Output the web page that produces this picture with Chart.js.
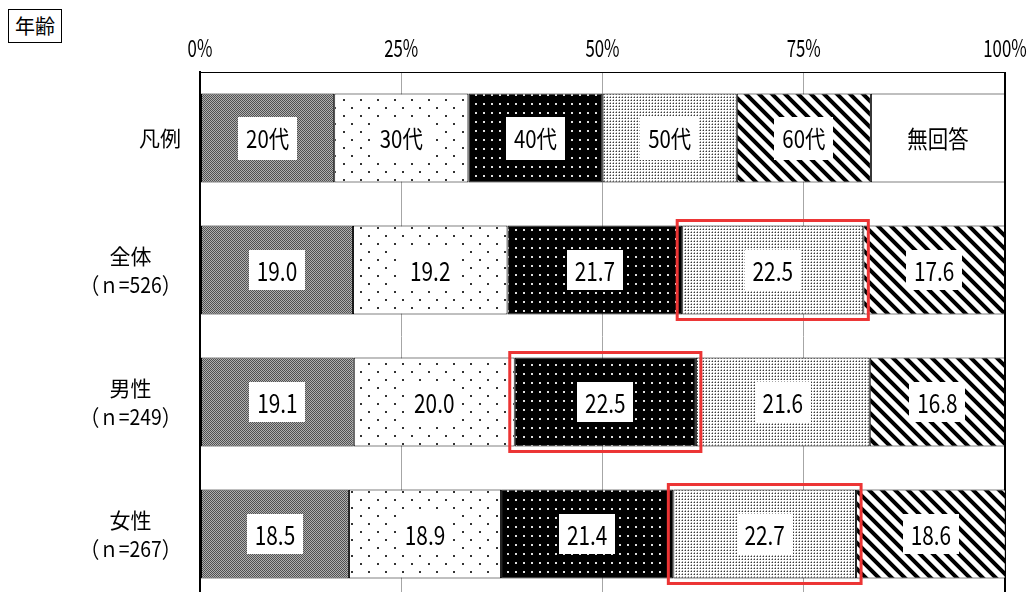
<!DOCTYPE html>
<html><head><meta charset="utf-8">
<script src="https://cdn.jsdelivr.net/npm/chart.js@4/dist/chart.umd.min.js"></script>
<style>
html,body{margin:0;padding:0;background:#fff;overflow:hidden;width:1031px;height:592px;}
#wrap{position:relative;width:1031px;height:600px;}
#title{position:absolute;left:8px;top:9px;width:52px;height:32px;border:1px solid #000;font:20px 'Noto Sans CJK JP';line-height:32px;text-align:center;background:#fff;}
canvas{position:absolute;left:0;top:0;}
</style></head><body>
<div id="wrap"><canvas id="c" width="1031" height="600"></canvas><div id="title">年齢</div></div>
<script>
const categories = [['凡例'], ['全体','（ｎ=526）'], ['男性','（ｎ=249）'], ['女性','（ｎ=267）']];
const seriesNames = ['20代','30代','40代','50代','60代','無回答'];
const v20 = [16.67, 19.0, 19.1, 18.5];
const v30 = [16.67, 19.2, 20.0, 18.9];
const v40 = [16.67, 21.7, 22.5, 21.4];
const v50 = [16.67, 22.5, 21.6, 22.7];
const v60 = [16.66, 17.6, 16.8, 18.6];
const vNA = [16.66, 0, 0, 0];
const xTicks = ['0%','25%','50%','75%','100%'];

const seriesValues = [v20, v30, v40, v50, v60, vNA];
const FONT = "'Noto Sans CJK JP', 'Noto Sans', sans-serif";

function mkPattern(w, h, fn) {
  const c = document.createElement('canvas');
  c.width = w; c.height = h;
  const x = c.getContext('2d');
  fn(x, w, h);
  return x.createPattern(c, 'repeat');
}
const p20 = mkPattern(2, 2, (x) => {
  x.fillStyle = '#b0b0b0'; x.fillRect(0, 0, 2, 2);
  x.fillStyle = '#505050'; x.fillRect(0, 0, 1, 1); x.fillRect(1, 1, 1, 1);
});
const p30 = mkPattern(17, 16, (x) => {
  x.fillStyle = '#fff'; x.fillRect(0, 0, 17, 16);
  x.fillStyle = '#333'; x.fillRect(3, 3, 2, 2); x.fillRect(11, 11, 2, 2);
});
const p40 = mkPattern(8, 9, (x) => {
  x.fillStyle = '#000'; x.fillRect(0, 0, 8, 9);
  x.fillStyle = '#e0e0e0'; x.fillRect(3, 4, 2, 2);
});
const p50 = mkPattern(3, 3, (x) => {
  x.fillStyle = '#fff'; x.fillRect(0, 0, 3, 3);
  x.fillStyle = '#3a3a3a'; x.fillRect(1, 1, 1, 1);
  x.fillStyle = '#aaa'; x.fillRect(1, 0, 1, 1); x.fillRect(0, 1, 1, 1);
});
const p60 = mkPattern(13, 13, (x) => {
  const img = x.createImageData(13, 13);
  for (let yy = 0; yy < 13; yy++) for (let xx = 0; xx < 13; xx++) {
    let d = ((xx - yy) % 13 + 13) % 13 + 0.5;
    let dist = Math.min(Math.abs(d - 2.5), 13 - Math.abs(d - 2.5));
    let a = Math.max(0, Math.min(1, (dist - 2.2) / 1.2));
    const v = Math.round(255 * a);
    const k = (yy * 13 + xx) * 4;
    img.data[k] = img.data[k + 1] = img.data[k + 2] = v; img.data[k + 3] = 255;
  }
  x.putImageData(img, 0, 0);
});
const patterns = [p20, p30, p40, p50, p60, '#ffffff'];

function drawScaledText(ctx, text, cx, cy, font, sx, align) {
  ctx.save();
  ctx.font = font;
  ctx.translate(cx, cy);
  ctx.scale(sx, 1);
  ctx.textAlign = align || 'center';
  ctx.textBaseline = 'middle';
  ctx.fillStyle = '#000';
  ctx.fillText(text, 0, 0);
  ctx.restore();
}

const overlay = {
  id: 'overlay',
  afterDatasetsDraw(chart) {
    const ctx = chart.ctx;
    chart.data.datasets.forEach((ds, i) => {
      const meta = chart.getDatasetMeta(i);
      meta.data.forEach((el, j) => {
        const v = ds.data[j];
        if (!v) return;
        const cx = (el.x + el.base) / 2, cy = el.y;
        let text, font, sx, bh;
        if (j === 0) { text = seriesNames[i]; font = '24px ' + FONT; sx = 0.85; bh = 43; }
        else { text = v.toFixed(1); font = '26px ' + FONT; sx = 0.8; bh = 40; }
        ctx.save(); ctx.font = font;
        const tw = ctx.measureText(text).width * sx;
        ctx.restore();
        const bw = tw + 16;
        ctx.fillStyle = '#fff';
        ctx.fillRect(Math.round(cx - bw / 2), Math.round(cy - bh / 2), Math.round(bw), bh);
        drawScaledText(ctx, text, cx, cy + 1, font, sx);
      });
    });
    for (let j = 1; j < chart.data.labels.length; j++) {
      let best = 0;
      chart.data.datasets.forEach((ds, i) => { if (ds.data[j] > chart.data.datasets[best].data[j]) best = i; });
      const el = chart.getDatasetMeta(best).data[j];
      const l = Math.min(el.x, el.base), r = Math.max(el.x, el.base);
      const t = el.y - el.height / 2, b = el.y + el.height / 2;
      const e = 5;
      ctx.save();
      ctx.strokeStyle = 'rgb(236,52,52)';
      ctx.lineWidth = 3;
      ctx.strokeRect(l - e, t - e, r - l + 2 * e, b - t + 2 * e);
      ctx.restore();
    }
  },
  afterDraw(chart) {
    const ctx = chart.ctx;
    const xs = chart.scales.x, ys = chart.scales.y;
    xs.ticks.forEach((tk, k) => {
      const px = xs.getPixelForValue(tk.value);
      drawScaledText(ctx, xTicks[k], px, 48, '24px ' + FONT, 0.7);
    });
    chart.data.labels.forEach((lines, i) => {
      const py = ys.getPixelForValue(i);
      const rightX = 181;
      if (lines.length === 1) {
        drawScaledText(ctx, lines[0], rightX, py, '21px ' + FONT, 1, 'right');
      } else {
        ctx.save();
        ctx.font = '21px ' + FONT; const w1 = ctx.measureText(lines[0]).width;
        ctx.font = '22px ' + FONT; const w2 = ctx.measureText(lines[1]).width * 0.88;
        ctx.restore();
        const bw = Math.max(w1, w2);
        const cx = rightX - bw / 2;
        drawScaledText(ctx, lines[0], cx, py - 14, '21px ' + FONT, 1);
        drawScaledText(ctx, lines[1], cx, py + 15, '22px ' + FONT, 0.88);
      }
    });
  }
};

new Chart(document.getElementById('c'), {
  type: 'bar',
  data: {
    labels: categories,
    datasets: seriesNames.map((n, i) => ({
      label: n,
      data: seriesValues[i],
      backgroundColor: patterns[i],
      borderColor: '#000',
      borderWidth: 1,
      borderSkipped: false,
      barPercentage: 0.674,
      categoryPercentage: 1
    }))
  },
  options: {
    indexAxis: 'y',
    responsive: false,
    animation: false,
    events: [],
    layout: { padding: { left: 0, right: 26, top: 0, bottom: 0 } },
    plugins: { legend: { display: false }, tooltip: { enabled: false } },
    scales: {
      x: {
        position: 'top', stacked: true, min: 0, max: 100,
        ticks: { stepSize: 25, display: false },
        grid: {
          drawTicks: false,
          color: (c) => (c.tick && (c.tick.value === 0 || c.tick.value === 100)) ? '#000' : '#a6a6a6',
          lineWidth: (c) => (c.tick && (c.tick.value === 0 || c.tick.value === 100)) ? 2 : 1
        },
        border: { color: '#000', width: 1 },
        afterFit: (s) => { s.height = 72; }
      },
      y: {
        stacked: true,
        ticks: { display: false },
        grid: { display: false },
        border: { color: '#000', width: 2 },
        afterFit: (s) => { s.width = 200; }
      }
    }
  },
  plugins: [overlay]
});
</script>
</body></html>
